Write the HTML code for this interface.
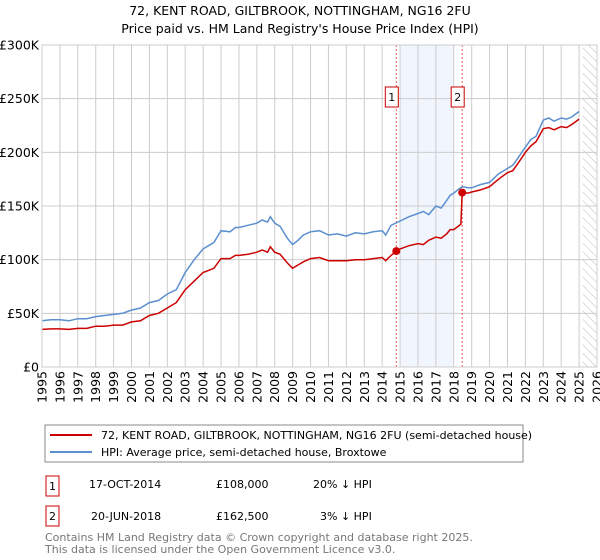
<!DOCTYPE html>
<html><head><meta charset="utf-8"><style>
body{margin:0;background:#fff;font-family:"Liberation Sans","DejaVu Sans",sans-serif;}
svg{display:block}
</style></head><body>
<svg width="600" height="560" viewBox="0 0 600 560" xmlns="http://www.w3.org/2000/svg" font-family="DejaVu Sans, Liberation Sans, sans-serif">
<text x="300" y="15" text-anchor="middle" font-size="12.5">72, KENT ROAD, GILTBROOK, NOTTINGHAM, NG16 2FU</text>
<text x="300" y="33" text-anchor="middle" font-size="12.5">Price paid vs. HM Land Registry's House Price Index (HPI)</text>
<defs><pattern id="hatch" width="6" height="6" patternUnits="userSpaceOnUse" patternTransform="rotate(-45)"><line x1="0" y1="0" x2="0" y2="6" stroke="#bbb" stroke-width="1"/></pattern></defs>
<g id="plot"></g>
<g>
<rect x="45" y="425" width="478" height="37" fill="#fff" stroke="#888"/>
<line x1="50" y1="435" x2="92" y2="435" stroke="#cc0000" stroke-width="2"/>
<text x="101" y="439" font-size="11">72, KENT ROAD, GILTBROOK, NOTTINGHAM, NG16 2FU (semi-detached house)</text>
<line x1="50" y1="452" x2="92" y2="452" stroke="#5b8fd0" stroke-width="2"/>
<text x="101" y="456" font-size="11">HPI: Average price, semi-detached house, Broxtowe</text>
</g>
<g font-size="11">
<rect x="46" y="476" width="13" height="20" fill="#fff" stroke="#cc0000"/><text x="52.5" y="490" text-anchor="middle">1</text>
<text x="89" y="488">17-OCT-2014</text><text x="216" y="488">£108,000</text><text x="313" y="488">20% ↓ HPI</text>
<rect x="46" y="506" width="13" height="20" fill="#fff" stroke="#cc0000"/><text x="52.5" y="520" text-anchor="middle">2</text>
<text x="91" y="520">20-JUN-2018</text><text x="216" y="520">£162,500</text><text x="320" y="520">3% ↓ HPI</text>
</g>
<text x="45" y="541" font-size="11" fill="#777">Contains HM Land Registry data © Crown copyright and database right 2025.</text>
<text x="45" y="553" font-size="11" fill="#777">This data is licensed under the Open Government Licence v3.0.</text>
</svg>
<script>
const hpiYears=[1995,1995.5,1996,1996.5,1997,1997.5,1998,1998.5,1999,1999.5,2000,2000.5,2001,2001.5,2002,2002.5,2003,2003.5,2004,2004.3,2004.6,2005,2005.5,2005.8,2006,2006.5,2007,2007.3,2007.6,2007.75,2008,2008.3,2008.7,2009,2009.3,2009.6,2010,2010.5,2011,2011.5,2012,2012.5,2013,2013.5,2014,2014.2,2014.5,2015,2015.5,2016,2016.3,2016.6,2017,2017.3,2017.6,2017.8,2018,2018.3,2018.5,2018.8,2019,2019.5,2020,2020.5,2021,2021.3,2021.6,2022,2022.3,2022.6,2023,2023.3,2023.6,2024,2024.3,2024.6,2025];
const hpiValues=[43,44,44,43,45,45,47,48,49,50,53,55,60,62,68,72,88,100,110,113,116,127,126,130,130,132,134,137,135,140,134,131,120,114,118,123,126,127,123,124,122,125,124,126,127,123,132,136,140,143,145,142,150,148,155,160,162,166,168,167,167,170,172,180,185,188,195,205,212,215,230,232,229,232,231,233,238];
const priceYears=[1995,1995.5,1996,1996.5,1997,1997.5,1998,1998.5,1999,1999.5,2000,2000.5,2001,2001.5,2002,2002.5,2003,2003.5,2004,2004.3,2004.6,2005,2005.5,2005.8,2006,2006.5,2007,2007.3,2007.6,2007.75,2008,2008.3,2008.7,2009,2009.3,2009.6,2010,2010.5,2011,2011.5,2012,2012.5,2013,2013.5,2014,2014.2,2014.5,2014.79,2015,2015.5,2016,2016.3,2016.6,2017,2017.3,2017.6,2017.8,2018,2018.4,2018.47,2018.8,2019,2019.5,2020,2020.5,2021,2021.3,2021.6,2022,2022.3,2022.6,2023,2023.3,2023.6,2024,2024.3,2024.6,2025];
const priceValues=[35,35.5,35.5,35,36,36,38,38,39,39,42,43,48,50,55,60,72,80,88,90,92,101,101,104,104,105,107,109,107,112,107,105,97,92,95,98,101,102,99,99,99,100,100,101,102,99,104,108,110,113,115,114,118,121,120,124,128,128,133,162.5,162,163,165,168,175,181,183,190,200,206,210,222,223,221,224,223,226,231];
const saleYears=[2014.79,2018.47];
const saleValues=[108,162.5];
const saleLabels=["1","2"];
const yTicks=[0,50,100,150,200,250,300];
const yTickLabels=["£0","£50K","£100K","£150K","£200K","£250K","£300K"];
const xTicks=[];for(let y=1995;y<=2026;y++)xTicks.push(y);
const L=42,R=597,T=45,B=367;
const X=y=>L+(y-1995)/(2026-1995)*(R-L);
const Y=v=>B-v/300*(B-T);
const NS="http://www.w3.org/2000/svg";
const g=document.getElementById('plot');
function mk(t,a){const e=document.createElementNS(NS,t);for(const k in a)e.setAttribute(k,a[k]);g.appendChild(e);return e;}
let e=mk('rect',{x:X(2015),y:T,width:X(2018)-X(2015),height:B-T,fill:'#eef3fc',opacity:0.8});


e=mk('rect',{x:X(2025.2),y:T,width:R-X(2025.2),height:B-T,fill:'url(#hatch)'});


xTicks.forEach(y=>{const l=mk('line',{x1:X(y),x2:X(y),y1:T,y2:B,stroke:'#ccc','stroke-width':1});


const t=mk('text',{x:0,y:0,'font-size':12.5,'text-anchor':'end',transform:`translate(${X(y)+4.5},${B+4}) rotate(-90)`});t.textContent=y;

});
yTicks.forEach((v,i)=>{const l=mk('line',{x1:L,x2:R,y1:Y(v),y2:Y(v),stroke:'#ccc','stroke-width':1});


const t=mk('text',{x:L-3,y:Y(v)+4.5,'font-size':12.5,'text-anchor':'end'});t.textContent=yTickLabels[i];

});
saleYears.forEach((y,i)=>{const l=mk('line',{x1:X(y),x2:X(y),y1:T,y2:B,stroke:'#e55','stroke-width':1,'stroke-dasharray':'2,2'});

});
function path(xs,vs,col,name){const d=xs.map((x,i)=>(i?'L':'M')+X(x).toFixed(1)+','+Y(vs[i]).toFixed(1)).join('');
const p=mk('path',{d:d,fill:'none',stroke:col,'stroke-width':1.5});

}
path(hpiYears,hpiValues,'#5b8fd0','hpi-line');
path(priceYears,priceValues,'#cc0000','price-line');
saleYears.forEach((y,i)=>{const c=mk('circle',{cx:X(y),cy:Y(saleValues[i]),r:4,fill:'#cc0000'});


const r=mk('rect',{x:X(y)-11,y:87,width:13,height:20,fill:'#fff',stroke:'#cc0000'});


const t=mk('text',{x:X(y)-4.5,y:101,'font-size':11,'text-anchor':'middle'});t.textContent=saleLabels[i];

});
const bd=mk('rect',{x:L,y:T,width:R-L,height:B-T,fill:'none',stroke:'#ccc'});


</script>
</body></html>
